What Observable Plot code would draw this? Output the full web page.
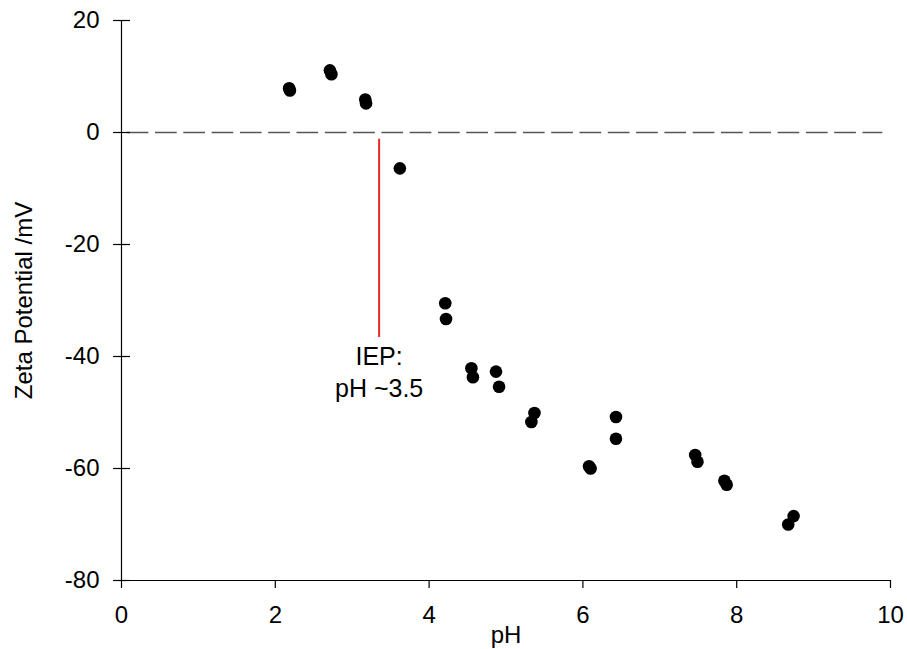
<!DOCTYPE html>
<html><head><meta charset="utf-8">
<script src="https://cdn.jsdelivr.net/npm/d3@7"></script>
<script src="https://cdn.jsdelivr.net/npm/@observablehq/plot@0.6"></script>
<style>body{margin:0;background:#fff;}</style>
</head><body><div id="chart"></div>
<script>
// Measured points: pH and zeta potential (mV)
const pH   = [2.18, 2.19, 2.71, 2.73, 3.17, 3.18, 3.62, 4.21, 4.22, 4.55, 4.57, 4.87, 4.91, 5.37, 5.33, 6.08, 6.10, 6.43, 6.43, 7.46, 7.49, 7.84, 7.87, 8.74, 8.67];
const zeta = [7.9, 7.5, 11.1, 10.4, 5.9, 5.2, -6.4, -30.5, -33.3, -42.1, -43.7, -42.7, -45.4, -50.1, -51.7, -59.6, -60.0, -50.8, -54.7, -57.6, -58.8, -62.2, -62.9, -68.5, -70.0];
const xTicks = [0, 2, 4, 6, 8, 10];
const yTicks = [-80, -60, -40, -20, 0, 20];
const iepPH = [3.35];
const iepTop = [-1.2];
const iepBottom = [-36.6];
const iepLabel = ["IEP:\npH ~3.5"];
const iepLabelY = [-42.6];

const points = pH.map((x, i) => ({x, y: zeta[i]}));
const font = "'Liberation Sans', Arial, sans-serif";
const fmt = d => String(d);

const chart = Plot.plot({
  width: 907,
  height: 649,
  marginLeft: 121,
  marginRight: 17,
  marginTop: 20,
  marginBottom: 69,
  style: {fontFamily: font, fontSize: "24px", background: "#fff", color: "#000"},
  x: {domain: [0, 10], ticks: xTicks},
  y: {domain: [-80, 20], ticks: yTicks},
  marks: [
    Plot.ruleY([0], {x1: 0, x2: 9.9, stroke: "#555", strokeWidth: 1.3, strokeDasharray: "21.7,6.6", strokeDashoffset: 22.6}),
    Plot.ruleX(iepPH, {x: d => d, y1: () => iepTop[0], y2: () => iepBottom[0], stroke: "#e8262b", strokeWidth: 2}),
    Plot.text(iepLabel, {x: () => iepPH[0], y: () => iepLabelY[0], text: d => d, fontSize: 25, lineHeight: 1.25, fill: "#000"}),
    Plot.dot(points, {x: "x", y: "y", r: 6.3, fill: "#000", stroke: "none"}),
    Plot.ruleX([0], {stroke: "#000", strokeWidth: 1.2}),
    Plot.ruleY([-80], {stroke: "#000", strokeWidth: 1.2}),
    Plot.axisX({ticks: xTicks, tickFormat: fmt, tickSize: 8, tickPadding: 17, fontSize: 24, label: "pH", labelAnchor: "center", labelArrow: "none", labelOffset: 62, stroke: "#000", strokeWidth: 1.2}),
    Plot.axisY({ticks: yTicks, tickFormat: fmt, tickSize: 8, tickPadding: 14, fontSize: 24, label: "Zeta Potential /mV", labelAnchor: "center", labelArrow: "none", labelOffset: 107, stroke: "#000", strokeWidth: 1.2}),
    Plot.axisY({ticks: yTicks, tickSize: -9, text: null, label: null, stroke: "#000", strokeWidth: 1.2})
  ]
});
document.getElementById("chart").appendChild(chart);
</script>
</body></html>
